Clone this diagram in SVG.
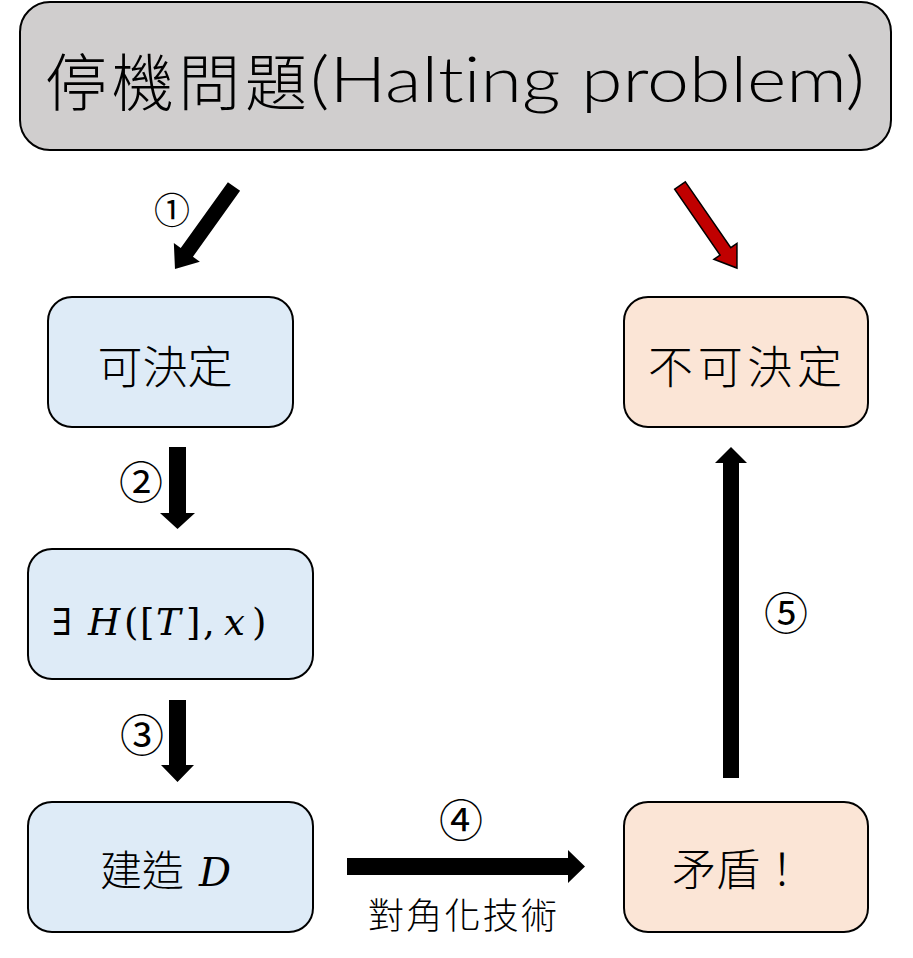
<svg xmlns="http://www.w3.org/2000/svg" width="913" height="958" viewBox="0 0 913 958">
<style>
.box{stroke:#000;stroke-width:2}
.grey{fill:#d0cece}
.blue{fill:#deebf7}
.peach{fill:#fbe5d6}
.cjk{font-family:"Noto Sans CJK TC","Noto Sans CJK SC",sans-serif;font-weight:300;fill:#000}
.lat{font-family:"Lato","Liberation Sans",sans-serif;font-weight:300;font-variant-ligatures:none;fill:#000}
.math{font-family:"DejaVu Serif","Liberation Serif",serif;fill:#000}
.num{font-family:"Noto Sans CJK TC","DejaVu Sans",sans-serif;fill:#000}
.arr{fill:#000}
.red{fill:#c00000;stroke:#000;stroke-width:1.5;stroke-linejoin:miter}
</style>
<rect width="913" height="958" fill="#fff"/>
<g id="halting">
<rect class="box grey" x="20" y="2" width="871" height="148" rx="30"/>
<text class="cjk" x="45" y="106" font-size="62" textLength="262" lengthAdjust="spacing">停機問題</text>
<text class="lat" x="310" y="102" font-size="64" textLength="555" lengthAdjust="spacingAndGlyphs">(Halting problem)</text>
</g>
<g id="decidable">
<rect class="box blue" x="48" y="297" width="245" height="130" rx="24"/>
<text class="cjk" x="165" y="384" font-size="45" text-anchor="middle">可決定</text>
</g>
<g id="undecidable">
<rect class="box peach" x="624" y="297" width="244" height="130" rx="24"/>
<text class="cjk" x="648" y="384" font-size="45" textLength="194" lengthAdjust="spacing">不可決定</text>
</g>
<g id="exists-h">
<rect class="box blue" x="28" y="549" width="285" height="130" rx="24"/>
<text class="math" y="635" font-size="37"><tspan x="52">∃</tspan><tspan x="88" font-style="italic">H</tspan><tspan x="124">(</tspan><tspan x="140">[</tspan><tspan x="156" font-style="italic">T</tspan><tspan x="186">]</tspan><tspan x="203">,</tspan><tspan x="224" font-style="italic">x</tspan><tspan x="252">)</tspan></text>
</g>
<g id="build-d">
<rect class="box blue" x="28" y="802" width="285" height="130" rx="24"/>
<text class="cjk" x="100" y="886" font-size="42">建造</text>
<text class="math" x="199" y="886" font-size="40" font-style="italic">D</text>
</g>
<g id="contradiction">
<rect class="box peach" x="624" y="802" width="244" height="130" rx="24"/>
<text class="cjk" x="672" y="886" font-size="44">矛盾！</text>
</g>
<g id="connectors">
<g id="a1">
<path class="arr" transform="translate(234,186.5) rotate(125.6)" d="M0,-7.5 L81,-7.5 L81,-16 L101.4,0 L81,16 L81,7.5 L0,7.5 Z"/>
<text class="num" x="172" y="224" font-size="36" text-anchor="middle">①</text>
</g>
<g id="a-red">
<path class="red" transform="translate(680,185.5) rotate(55.4)" d="M0,-6.5 L80,-6.5 L80,-14 L100.3,0 L80,14 L80,6.5 L0,6.5 Z"/>
</g>
<g id="a2">
<path class="arr" d="M169,447 L186,447 L186,513 L195,513 L177.5,529 L160,513 L169,513 Z"/>
<text class="num" x="141" y="499" font-size="44" text-anchor="middle">②</text>
</g>
<g id="a3">
<path class="arr" d="M169,700 L186,700 L186,765 L194,765 L177.5,782 L161,765 L169,765 Z"/>
<text class="num" x="142" y="752" font-size="44" text-anchor="middle">③</text>
</g>
<g id="a4">
<path class="arr" d="M347,858 L568,858 L568,850 L585,866.5 L568,883 L568,875 L347,875 Z"/>
<text class="num" x="461" y="837" font-size="44" text-anchor="middle">④</text>
<text class="cjk" x="368" y="929" font-size="36" textLength="189" lengthAdjust="spacing">對角化技術</text>
</g>
<g id="a5">
<path class="arr" d="M723,778 L723,463 L715,463 L731,447 L747,463 L739,463 L739,778 Z"/>
<text class="num" x="786" y="630" font-size="44" text-anchor="middle">⑤</text>
</g>
</g>
</svg>
